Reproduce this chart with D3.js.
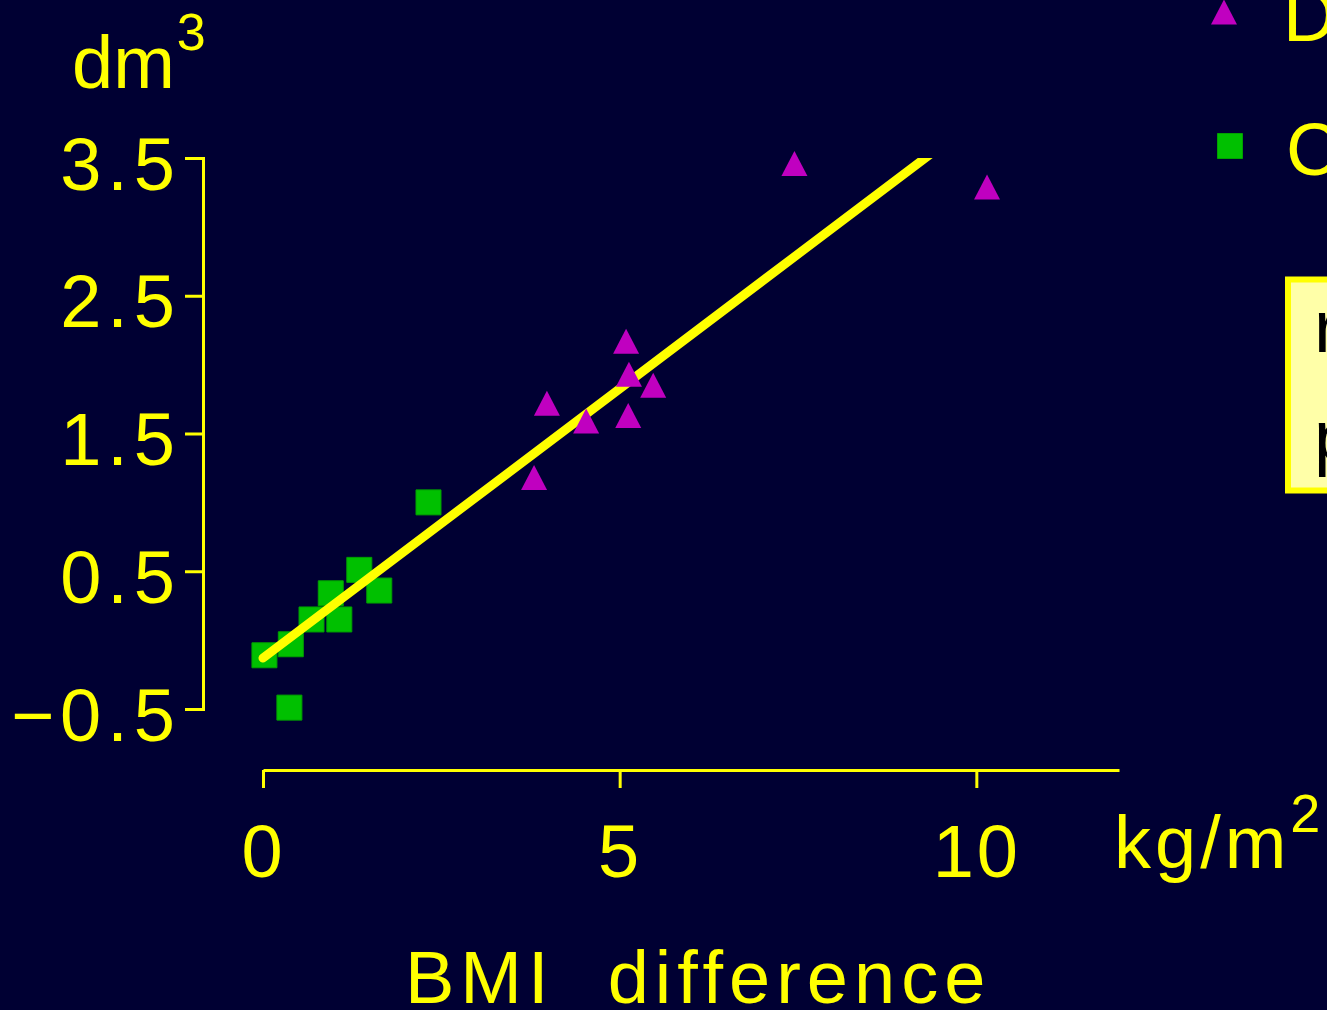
<!DOCTYPE html>
<html>
<head>
<meta charset="utf-8">
<script src="https://cdn.jsdelivr.net/npm/d3@7"></script>
<style>
  html, body { margin: 0; padding: 0; background: #000033; overflow: hidden; }
  text { font-family: "Liberation Sans", Arial, sans-serif; fill: #ffff00; }
</style>
</head>
<body>
<svg width="1327" height="1010"></svg>
<script>
  // values
  const concordantX = [0.02, 0.39, 0.37, 0.68, 0.95, 1.07, 1.35, 1.63, 2.32];
  const concordantY = [-0.11, -0.03, -0.49, 0.15, 0.34, 0.15, 0.51, 0.36, 1.0];
  const discordantX = [3.8, 3.98, 4.53, 5.09, 5.13, 5.12, 5.47, 7.45, 10.15];
  const discordantY = [1.18, 1.72, 1.59, 2.17, 1.93, 1.63, 1.85, 3.46, 3.29];
  const fitX = [0, 9.6];
  const fitIntercept = -0.13;
  const fitSlope = 0.391;
  const yTicks = [-0.5, 0.5, 1.5, 2.5, 3.5];
  const xTicks = [0, 5, 10];
  const legendLabels = ["Discordant", "Concordant"];
  const statLines = ["r = 0.96", "p < 0.001"];

  const svg = d3.select("svg");
  const width = +svg.attr("width");
  const height = +svg.attr("height");

  svg.append("rect").attr("width", width).attr("height", height).attr("fill", "#000033");

  const x = d3.scaleLinear().domain([0, 12]).range([263, 1119]);
  const y = d3.scaleLinear().domain([-0.5, 3.5]).range([709, 158]);

  const fontSize = 74;

  // y axis
  const yAxisG = svg.append("g")
    .attr("transform", "translate(203,0)")
    .call(d3.axisLeft(y).tickValues(yTicks).tickSize(18).tickPadding(4));
  yAxisG.selectAll("path, line").attr("stroke", "#ffff00").attr("stroke-width", 3);
  yAxisG.selectAll("text")
    .attr("font-size", fontSize).attr("font-family", null).attr("fill", "#ffff00")
    .attr("letter-spacing", 6).attr("dy", "0.42em")
    .text((d) => (d < 0 ? "\u2212" : "") + d3.format(".1f")(Math.abs(d)));

  // x axis
  const xAxisG = svg.append("g")
    .attr("transform", "translate(0,770)")
    .call(d3.axisBottom(x).tickValues(xTicks).tickSize(18).tickSizeOuter(0).tickPadding(36));
  xAxisG.selectAll("path, line").attr("stroke", "#ffff00").attr("stroke-width", 3);
  xAxisG.selectAll("text")
    .attr("font-size", fontSize).attr("font-family", null).attr("fill", "#ffff00")
    .attr("letter-spacing", 3);

  // unit labels
  const dm = svg.append("text").attr("x", 72).attr("y", 88).attr("font-size", fontSize);
  dm.append("tspan").text("dm");
  dm.append("tspan").attr("font-size", 52).attr("dx", 2).attr("dy", -38).text("3");

  const kg = svg.append("text").attr("x", 1114).attr("y", 868).attr("font-size", fontSize)
    .attr("letter-spacing", 4);
  kg.append("tspan").text("kg/m");
  kg.append("tspan").attr("font-size", 54).attr("dx", 0).attr("dy", -36).text("2");

  svg.append("text")
    .attr("x", 405).attr("y", 1003)
    .attr("font-size", fontSize)
    .attr("letter-spacing", 6)
    .style("white-space", "pre")
    .text("BMI  difference");

  // markers
  const triangle = {
    draw(ctx, size) {
      const w = Math.sqrt(size) / 2;
      ctx.moveTo(0, -w);
      ctx.lineTo(w * 1.04, w);
      ctx.lineTo(-w * 1.04, w);
      ctx.closePath();
    }
  };
  const squarePath = d3.symbol().type(d3.symbolSquare).size(625)();
  const trianglePath = d3.symbol().type(triangle).size(625)();

  svg.append("g")
    .selectAll("path")
    .data(concordantX.map((v, i) => [v, concordantY[i]]))
    .join("path")
    .attr("d", squarePath)
    .attr("transform", (d) => `translate(${x(d[0])},${y(d[1])})`)
    .attr("fill", "#00c000")
    .attr("stroke", "#00a000")
    .attr("stroke-width", 1);

  // regression line, clipped at the top of the y axis
  svg.append("clipPath").attr("id", "plot-clip")
    .append("rect").attr("x", 0).attr("y", y(3.5)).attr("width", width).attr("height", height);

  const line = d3.line().x((d) => x(d)).y((d) => y(fitIntercept + fitSlope * d));
  svg.append("path")
    .attr("clip-path", "url(#plot-clip)")
    .attr("d", line(fitX))
    .attr("fill", "none")
    .attr("stroke", "#ffff00")
    .attr("stroke-width", 9)
    .attr("stroke-linecap", "round");

  svg.append("g")
    .selectAll("path")
    .data(discordantX.map((v, i) => [v, discordantY[i]]))
    .join("path")
    .attr("d", trianglePath)
    .attr("transform", (d) => `translate(${x(d[0])},${y(d[1])})`)
    .attr("fill", "#c000c0");

  // legend
  const legend = svg.append("g");
  legend.append("path").attr("d", trianglePath)
    .attr("transform", "translate(1224,12)").attr("fill", "#c000c0");
  legend.append("path").attr("d", squarePath)
    .attr("transform", "translate(1230,146)").attr("fill", "#00c000")
    .attr("stroke", "#00a000").attr("stroke-width", 1);
  legend.selectAll("text")
    .data(legendLabels)
    .join("text")
    .attr("x", (d, i) => (i === 0 ? 1283 : 1286))
    .attr("y", (d, i) => (i === 0 ? 41 : 175))
    .attr("font-size", fontSize)
    .text((d) => d);

  // statistics box
  svg.append("rect")
    .attr("x", 1288).attr("y", 279.5)
    .attr("width", 300).attr("height", 211)
    .attr("fill", "#ffffa8")
    .attr("stroke", "#ffff00")
    .attr("stroke-width", 6);
  svg.selectAll(".stat")
    .data(statLines)
    .join("text")
    .attr("class", "stat")
    .attr("x", 1314)
    .attr("y", (d, i) => (i === 0 ? 352 : 462))
    .attr("font-size", fontSize)
    .style("fill", "#000000")
    .text((d) => d);
</script>
</body>
</html>
